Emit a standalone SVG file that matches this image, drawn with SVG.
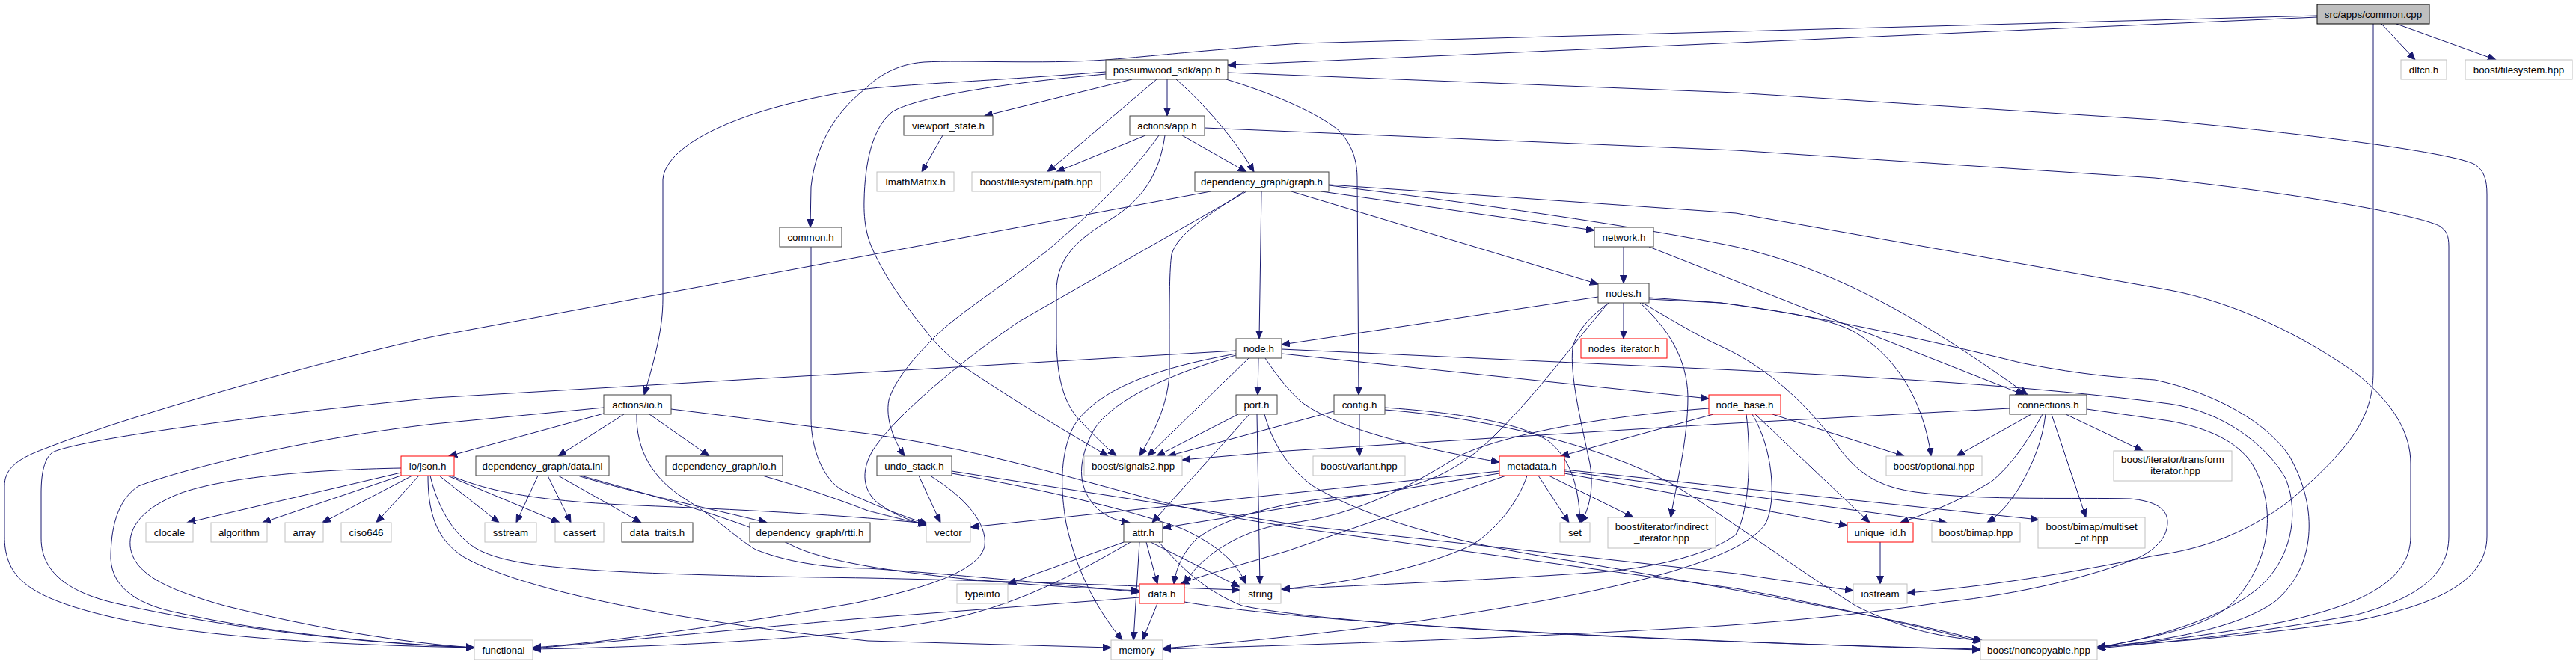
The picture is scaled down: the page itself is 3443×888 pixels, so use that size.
<svg xmlns="http://www.w3.org/2000/svg" width="3443" height="888" viewBox="0 0 3443 888">
<style>
.node rect{fill:#fff;stroke:#404040;stroke-width:1}
.node.g rect{stroke:#bfbfbf}
.node.r rect{stroke:#ff0000}
.node.root rect{fill:#bfbfbf;stroke:#000}
.node text{font-family:"Liberation Sans",Arial,sans-serif;font-size:13.33px;text-anchor:middle;fill:#000}
.edges path{fill:none;stroke:#191970;stroke-width:1;marker-end:url(#a)}
</style>
<defs>
<marker id="a" markerWidth="12" markerHeight="10" refX="11" refY="5" orient="auto" markerUnits="userSpaceOnUse"><path d="M0,0.5 L11,5 L0,9.5 z" fill="#191970" stroke="#191970" stroke-width="1"/></marker>
</defs>
<rect width="3443" height="888" fill="#fff"/>
<g class="edges">
<path d="M3097,23 L1641,87"/>
<path d="M3097,21 L1740,58 C1620,66 1530,76 1478,80 C1390,86 1290,80 1235,83 C1195,86 1170,105 1155,120 C1115,152 1090,195 1084,250 L1083,304"/>
<path d="M3183,32 L3228,80"/>
<path d="M3203,32 L3336,80"/>
<path d="M3172,32 L3172,497 C3172,560 3140,600 3060,670 C3000,715 2940,735 2880,743 C2760,768 2650,785 2549,793"/>
<path d="M1513,106 L1316,155"/>
<path d="M1546,106 L1400,230"/>
<path d="M1560,106 L1560,155"/>
<path d="M1572,106 C1610,140 1650,185 1676,230"/>
<path d="M1639,106 C1700,125 1760,150 1790,175 C1808,195 1814,215 1814,240 L1816,528"/>
<path d="M1641,97 L2320,124 L2880,160 C3100,180 3280,205 3308,220 C3320,228 3324,240 3324,260 L3324,717 C3324,780 3250,810 3150,830 C3000,852 2880,860 2803,865"/>
<path d="M1478,96 C1330,108 1200,113 1150,120 C1000,142 890,190 886,240 L886,400 C886,440 875,480 861,528"/>
<path d="M1478,99 C1300,115 1215,135 1192,150 C1165,172 1156,220 1155,267 C1154,300 1160,320 1167,335 C1185,375 1215,415 1245,452 C1262,472 1275,482 1295,495 C1370,545 1430,580 1481,610"/>
<path d="M1260,181 L1232,230"/>
<path d="M1531,181 L1412,230"/>
<path d="M1580,181 L1666,230"/>
<path d="M1610,171 L2320,201 L2880,238 C3100,262 3240,290 3262,303 C3270,309 3273,315 3273,330 L3273,717 C3273,770 3230,800 3150,822 C3000,850 2880,860 2803,867"/>
<path d="M1549,181 C1500,250 1440,300 1400,335 C1330,390 1280,420 1250,450 C1220,480 1195,510 1188,535 C1183,560 1195,590 1209,610"/>
<path d="M1557,181 C1550,230 1530,265 1485,293 C1440,320 1412,345 1412,390 L1412,450 C1412,500 1420,540 1446,565 C1460,580 1475,595 1492,610"/>
<path d="M1618,256 L580,450 C420,485 160,560 60,600 C18,615 6,630 6,650 L6,717 C6,765 30,790 100,812 C220,850 420,862 634,866"/>
<path d="M1666,256 L1362,430 C1260,500 1185,570 1165,605 C1150,632 1155,655 1170,670 C1190,686 1215,697 1240,702"/>
<path d="M1663,256 C1620,285 1575,310 1566,340 C1563,360 1563,400 1563,450 L1563,500 C1560,550 1535,590 1523,610"/>
<path d="M1686,256 L1683,453"/>
<path d="M1766,256 L2131,308"/>
<path d="M1726,256 L2136,380"/>
<path d="M1776,248 C2000,275 2200,305 2320,330 C2450,360 2560,420 2710,528"/>
<path d="M1776,247 L2320,285 L2900,388 C2990,405 3080,450 3150,500 C3200,540 3222,580 3222,620 L3222,717 C3222,780 3150,810 3050,832 C2950,850 2870,860 2803,865"/>
<path d="M1084,330 L1084,560 C1084,600 1100,640 1125,655 C1160,672 1205,690 1240,701"/>
<path d="M2170,330 L2170,379"/>
<path d="M2204,330 L2705,528"/>
<path d="M2136,397 L1713,461"/>
<path d="M2170,405 L2170,453"/>
<path d="M2150,405 C2128,422 2108,440 2102,465 C2098,500 2112,560 2125,620 C2132,660 2120,688 2113,699"/>
<path d="M2192,405 C2230,440 2255,480 2256,530 C2256,590 2240,650 2233,692"/>
<path d="M2204,400 L2300,405 C2390,418 2440,425 2475,442 C2530,472 2570,530 2581,610"/>
<path d="M2204,398 L2300,405 C2420,420 2600,460 2700,485 C2790,503 2840,505 2880,508 C2960,525 3030,565 3060,610 C3100,680 3095,760 3040,805 C2990,840 2900,856 2803,866"/>
<path d="M2195,405 C2230,425 2270,450 2300,463 C2380,500 2430,560 2461,603 C2490,640 2520,652 2560,658 C2650,670 2780,665 2847,667 C2880,670 2898,680 2897,700 C2896,720 2880,735 2860,745 C2800,770 2700,795 2600,805 C2500,820 2400,830 2300,837 C2000,855 1750,862 1554,868"/>
<path d="M2150,405 C2110,450 2060,520 2000,580 C1950,630 1900,656 1800,664 C1720,670 1640,690 1600,720 C1580,740 1572,760 1569,781"/>
<path d="M1652,469 L580,532 C300,560 100,590 70,605 C57,615 55,640 55,660 L55,720 C55,770 100,795 160,808 C300,840 480,860 634,866"/>
<path d="M1652,473 C1560,490 1470,515 1435,570 C1415,610 1418,660 1425,700 C1440,770 1470,820 1500,856"/>
<path d="M1652,475 C1580,495 1490,530 1462,575 C1440,615 1440,650 1462,675 C1475,690 1490,696 1510,699"/>
<path d="M1669,479 L1534,610"/>
<path d="M1682,479 L1681,528"/>
<path d="M1691,479 C1705,500 1720,520 1740,538 C1790,575 1900,600 2004,618"/>
<path d="M1713,467 L2320,495 C2500,504 2720,516 2900,540 C2970,550 3030,595 3055,640 C3075,690 3060,750 3020,785 C2980,820 2900,850 2803,866"/>
<path d="M1713,473 L2284,533"/>
<path d="M1655,554 L1546,610"/>
<path d="M1670,554 L1540,699"/>
<path d="M1680,554 L1684,781"/>
<path d="M1690,554 C1700,590 1720,625 1755,650 C1805,680 1900,720 2100,750 C2300,785 2550,830 2650,857"/>
<path d="M1783,550 L1561,610"/>
<path d="M1817,554 L1817,610"/>
<path d="M1851,545 C1950,552 2030,565 2070,590 C2100,615 2110,650 2112,699"/>
<path d="M1851,548 C2000,560 2150,600 2240,650 C2320,700 2400,760 2480,810 C2550,845 2600,852 2650,857"/>
<path d="M1228,636 L1257,699"/>
<path d="M1243,636 C1290,665 1320,700 1316,730 C1310,760 1250,785 1140,807 C950,840 800,860 712,866"/>
<path d="M1272,633 C1400,655 1520,685 1580,707 C1630,730 1655,755 1665,781"/>
<path d="M1272,630 L1740,703 L2320,767 L2477,790"/>
<path d="M807,553 L600,610"/>
<path d="M834,554 L746,610"/>
<path d="M868,554 L948,610"/>
<path d="M807,545 L580,567 C420,585 250,625 185,650 C155,670 148,710 148,747 C150,790 190,810 240,820 C350,845 500,860 634,866"/>
<path d="M897,547 L1160,580 C1300,600 1400,630 1522,663 C1600,685 1680,698 1740,707 L2320,787 C2450,810 2570,840 2648,858"/>
<path d="M851,554 C850,600 870,640 920,670 C960,695 985,720 1010,735 C1060,755 1120,760 1160,760 C1300,770 1450,785 1523,792"/>
<path d="M719,636 L690,699"/>
<path d="M732,636 L763,699"/>
<path d="M746,636 L857,699"/>
<path d="M772,636 C850,660 950,680 1025,699"/>
<path d="M776,636 C900,670 1000,700 1060,730 C1120,760 1300,780 1523,790"/>
<path d="M1019,636 C1060,648 1100,660 1160,683 C1195,692 1220,698 1238,702"/>
<path d="M536,632 L250,699"/>
<path d="M536,636 L351,699"/>
<path d="M551,636 L431,699"/>
<path d="M560,636 L503,699"/>
<path d="M536,626 C420,628 300,638 240,660 C190,680 172,705 174,730 C178,770 230,790 300,810 C420,840 540,860 634,866"/>
<path d="M587,636 L667,699"/>
<path d="M598,636 L748,699"/>
<path d="M572,636 C572,680 580,720 620,745 C700,790 900,830 1160,857 L1485,866"/>
<path d="M575,636 C585,680 610,725 650,740 C700,760 800,768 1160,773 C1400,778 1560,786 1657,789"/>
<path d="M602,636 C650,655 700,668 830,675 C950,680 1100,686 1238,700"/>
<path d="M1502,725 L1347,781"/>
<path d="M1511,725 C1450,760 1380,800 1290,823 C1150,855 850,866 712,868"/>
<path d="M1523,725 L1515,856"/>
<path d="M1532,725 L1547,781"/>
<path d="M1538,725 L1657,785"/>
<path d="M1549,725 C1580,760 1610,790 1660,810 C1800,840 2300,860 2647,868"/>
<path d="M1547,807 L1527,856"/>
<path d="M1523,799 L1140,828 C950,845 800,860 712,867"/>
<path d="M1583,805 C1700,825 2000,850 2647,869"/>
<path d="M2056,636 L2097,699"/>
<path d="M2070,636 L2183,692"/>
<path d="M2091,628 L2725,695"/>
<path d="M2091,630 L2602,699"/>
<path d="M2091,633 L2469,703"/>
<path d="M2004,630 L1297,705"/>
<path d="M2004,633 L1554,706"/>
<path d="M2041,636 C2030,670 2000,710 1965,730 C1900,760 1800,780 1713,788"/>
<path d="M2013,636 L1720,737 C1660,755 1610,768 1578,781"/>
<path d="M2290,554 L2086,610"/>
<path d="M2346,554 L2499,699"/>
<path d="M2369,554 L2545,610"/>
<path d="M2334,554 C2340,600 2340,680 2320,715 C2280,745 2200,760 2140,765 C2000,775 1800,784 1713,788"/>
<path d="M2342,554 C2370,600 2375,670 2360,700 C2320,760 2100,800 1900,830 C1750,850 1620,862 1554,867"/>
<path d="M2284,546 C2100,560 1990,590 1950,610 C1900,640 1820,690 1720,700 C1650,710 1600,750 1583,781"/>
<path d="M2686,546 L2300,567 L1720,603 L1580,615"/>
<path d="M2715,554 L2615,610"/>
<path d="M2730,554 C2710,590 2690,620 2663,643 C2620,670 2580,685 2540,699"/>
<path d="M2734,554 C2730,590 2717,620 2700,650 C2685,675 2670,690 2656,699"/>
<path d="M2742,554 L2788,692"/>
<path d="M2761,554 L2864,603"/>
<path d="M2789,547 L2900,563 C2950,572 2990,590 3010,620 C3040,670 3040,740 2990,800 C2960,835 2900,848 2803,866"/>
<path d="M2513,725 L2513,781"/>
</g>
<g id="n0" class="node root"><rect x="3097" y="6" width="150" height="26"/><text x="3172" y="23.6">src/apps/common.cpp</text></g>
<g id="n1" class="node"><rect x="1478" y="80" width="163" height="26"/><text x="1559.5" y="97.6">possumwood_sdk/app.h</text></g>
<g id="n2" class="node g"><rect x="3209" y="80" width="61" height="26"/><text x="3239.5" y="97.6">dlfcn.h</text></g>
<g id="n3" class="node g"><rect x="3295" y="80" width="143" height="26"/><text x="3366.5" y="97.6">boost/filesystem.hpp</text></g>
<g id="n4" class="node"><rect x="1208" y="155" width="119" height="26"/><text x="1267.5" y="172.6">viewport_state.h</text></g>
<g id="n5" class="node"><rect x="1510" y="155" width="100" height="26"/><text x="1560" y="172.6">actions/app.h</text></g>
<g id="n6" class="node g"><rect x="1172" y="230" width="103" height="26"/><text x="1223.5" y="247.6">ImathMatrix.h</text></g>
<g id="n7" class="node g"><rect x="1299" y="230" width="172" height="26"/><text x="1385" y="247.6">boost/filesystem/path.hpp</text></g>
<g id="n8" class="node"><rect x="1597" y="230" width="179" height="26"/><text x="1686.5" y="247.6">dependency_graph/graph.h</text></g>
<g id="n9" class="node"><rect x="1042" y="304" width="83" height="26"/><text x="1083.5" y="321.6">common.h</text></g>
<g id="n10" class="node"><rect x="2131" y="304" width="79" height="26"/><text x="2170.5" y="321.6">network.h</text></g>
<g id="n11" class="node"><rect x="2136" y="379" width="68" height="26"/><text x="2170" y="396.6">nodes.h</text></g>
<g id="n12" class="node"><rect x="1652" y="453" width="61" height="26"/><text x="1682.5" y="470.6">node.h</text></g>
<g id="n13" class="node r"><rect x="2113" y="453" width="115" height="26"/><text x="2170.5" y="470.6">nodes_iterator.h</text></g>
<g id="n14" class="node"><rect x="807" y="528" width="90" height="26"/><text x="852" y="545.6">actions/io.h</text></g>
<g id="n15" class="node"><rect x="1652" y="528" width="55" height="26"/><text x="1679.5" y="545.6">port.h</text></g>
<g id="n16" class="node"><rect x="1783" y="528" width="68" height="26"/><text x="1817" y="545.6">config.h</text></g>
<g id="n17" class="node r"><rect x="2284" y="528" width="96" height="26"/><text x="2332" y="545.6">node_base.h</text></g>
<g id="n18" class="node"><rect x="2686" y="528" width="103" height="26"/><text x="2737.5" y="545.6">connections.h</text></g>
<g id="n19" class="node r"><rect x="536" y="610" width="71" height="26"/><text x="571.5" y="627.6">io/json.h</text></g>
<g id="n20" class="node"><rect x="636" y="610" width="178" height="26"/><text x="725" y="627.6">dependency_graph/data.inl</text></g>
<g id="n21" class="node"><rect x="890" y="610" width="156" height="26"/><text x="968" y="627.6">dependency_graph/io.h</text></g>
<g id="n22" class="node"><rect x="1172" y="610" width="100" height="26"/><text x="1222" y="627.6">undo_stack.h</text></g>
<g id="n23" class="node g"><rect x="1449" y="610" width="131" height="26"/><text x="1514.5" y="627.6">boost/signals2.hpp</text></g>
<g id="n24" class="node g"><rect x="1755" y="610" width="123" height="26"/><text x="1816.5" y="627.6">boost/variant.hpp</text></g>
<g id="n25" class="node r"><rect x="2004" y="610" width="87" height="26"/><text x="2047.5" y="627.6">metadata.h</text></g>
<g id="n26" class="node g"><rect x="2521" y="610" width="128" height="26"/><text x="2585" y="627.6">boost/optional.hpp</text></g>
<g id="n27" class="node g"><rect x="2825" y="603" width="158" height="40"/><text x="2904" y="619">boost/iterator/transform</text><text x="2904" y="634">_iterator.hpp</text></g>
<g id="n28" class="node g"><rect x="195" y="699" width="63" height="26"/><text x="226.5" y="716.6">clocale</text></g>
<g id="n29" class="node g"><rect x="282" y="699" width="75" height="26"/><text x="319.5" y="716.6">algorithm</text></g>
<g id="n30" class="node g"><rect x="381" y="699" width="51" height="26"/><text x="406.5" y="716.6">array</text></g>
<g id="n31" class="node g"><rect x="456" y="699" width="67" height="26"/><text x="489.5" y="716.6">ciso646</text></g>
<g id="n32" class="node g"><rect x="648" y="699" width="69" height="26"/><text x="682.5" y="716.6">sstream</text></g>
<g id="n33" class="node g"><rect x="742" y="699" width="65" height="26"/><text x="774.5" y="716.6">cassert</text></g>
<g id="n34" class="node"><rect x="831" y="699" width="95" height="26"/><text x="878.5" y="716.6">data_traits.h</text></g>
<g id="n35" class="node"><rect x="1002" y="699" width="161" height="26"/><text x="1082.5" y="716.6">dependency_graph/rtti.h</text></g>
<g id="n36" class="node g"><rect x="1238" y="699" width="59" height="26"/><text x="1267.5" y="716.6">vector</text></g>
<g id="n37" class="node"><rect x="1502" y="699" width="52" height="26"/><text x="1528" y="716.6">attr.h</text></g>
<g id="n38" class="node g"><rect x="2085" y="699" width="40" height="26"/><text x="2105" y="716.6">set</text></g>
<g id="n39" class="node g"><rect x="2149" y="692" width="144" height="41"/><text x="2221" y="709">boost/iterator/indirect</text><text x="2221" y="724">_iterator.hpp</text></g>
<g id="n40" class="node r"><rect x="2469" y="699" width="88" height="26"/><text x="2513" y="716.6">unique_id.h</text></g>
<g id="n41" class="node g"><rect x="2582" y="699" width="118" height="26"/><text x="2641" y="716.6">boost/bimap.hpp</text></g>
<g id="n42" class="node g"><rect x="2724" y="692" width="143" height="41"/><text x="2795.5" y="709">boost/bimap/multiset</text><text x="2795.5" y="724">_of.hpp</text></g>
<g id="n43" class="node g"><rect x="1279" y="781" width="68" height="26"/><text x="1313" y="798.6">typeinfo</text></g>
<g id="n44" class="node r"><rect x="1523" y="781" width="60" height="26"/><text x="1553" y="798.6">data.h</text></g>
<g id="n45" class="node g"><rect x="1657" y="781" width="55" height="26"/><text x="1684.5" y="798.6">string</text></g>
<g id="n46" class="node g"><rect x="2477" y="781" width="72" height="26"/><text x="2513" y="798.6">iostream</text></g>
<g id="n47" class="node g"><rect x="634" y="856" width="78" height="26"/><text x="673" y="873.6">functional</text></g>
<g id="n48" class="node g"><rect x="1485" y="856" width="69" height="26"/><text x="1519.5" y="873.6">memory</text></g>
<g id="n49" class="node g"><rect x="2647" y="856" width="156" height="26"/><text x="2725" y="873.6">boost/noncopyable.hpp</text></g>
</svg>
